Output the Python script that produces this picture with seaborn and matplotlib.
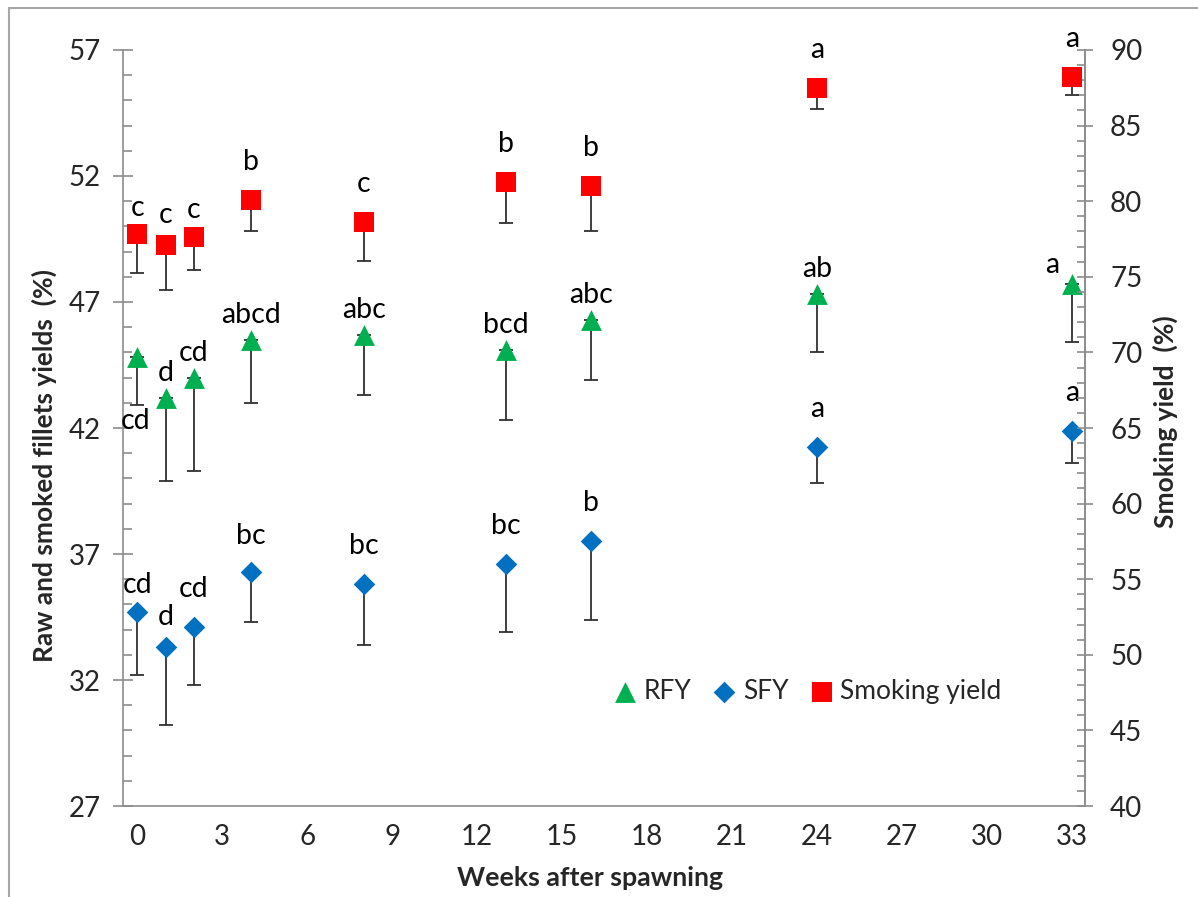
import matplotlib
matplotlib.use('Agg')
import matplotlib.pyplot as plt
import numpy as np
import pandas as pd
import seaborn as sns
from matplotlib.patches import Rectangle
from matplotlib.ticker import MultipleLocator, FixedLocator

# values
weeks = [0, 1, 2, 4, 8, 13, 16, 24, 33]
rfy = [44.8, 43.2, 44.0, 45.5, 45.7, 45.1, 46.3, 47.3, 47.7]
rfy_err = [1.9, 3.3, 3.7, 2.5, 2.4, 2.8, 2.4, 2.3, 2.3]
sfy = [34.7, 33.3, 34.1, 36.3, 35.8, 36.6, 37.5, 41.25, 41.9]
sfy_err = [2.5, 3.1, 2.3, 2.0, 2.4, 2.7, 3.1, 1.45, 1.3]
smoking = [77.8, 77.1, 77.6, 80.1, 78.6, 81.3, 81.0, 87.5, 88.2]
smoking_err = [2.55, 3.0, 2.15, 2.1, 2.55, 2.75, 3.0, 1.4, 1.2]

rfy_letters = ['cd', 'd', 'cd', 'abcd', 'abc', 'bcd', 'abc', 'ab', 'a']
sfy_letters = ['cd', 'd', 'cd', 'bc', 'bc', 'bc', 'b', 'a', 'a']
smoking_letters = ['c', 'c', 'c', 'b', 'c', 'b', 'b', 'a', 'a']

GREEN = '#00B050'
BLUE = '#0070C0'
RED = '#FF0000'
SPINE = '#8C8C8C'

sns.set_theme(style='white')
plt.rcParams['font.family'] = ['Lato', 'DejaVu Sans']

df = pd.DataFrame({'week': weeks, 'rfy': rfy, 'sfy': sfy, 'smoking': smoking})

fig = plt.figure(figsize=(11.98, 8.97), dpi=100)
ax = fig.add_axes([0.1027, 0.1014, 0.8030, 0.8429])
ax2 = ax.twinx()

zeros = np.zeros(len(weeks))
err_kw = dict(fmt='none', ecolor='#303030', elinewidth=1.3, capsize=4.7, capthick=1.3, zorder=2)
ax.errorbar(weeks, rfy, yerr=[rfy_err, zeros], **err_kw)
ax.errorbar(weeks, sfy, yerr=[sfy_err, zeros], **err_kw)
ax2.errorbar(weeks, smoking, yerr=[smoking_err, zeros], **err_kw)

sns.scatterplot(data=df, x='week', y='rfy', marker='^', s=225, color=GREEN,
                linewidth=0, ax=ax, zorder=3, label='RFY')
sns.scatterplot(data=df, x='week', y='sfy', marker='D', s=121, color=BLUE,
                linewidth=0, ax=ax, zorder=3, label='SFY')
sns.scatterplot(data=df, x='week', y='smoking', marker='s', s=225, color=RED,
                linewidth=0, ax=ax2, zorder=3, label='Smoking yield')

# significance letters (offsets in pixels -> points)
def put_letters(axis, ys, letters, dy_default, special):
    for i, (x, y, t) in enumerate(zip(weeks, ys, letters)):
        dx, dy = special.get(i, (0, dy_default))
        axis.annotate(t, (x, y), xytext=(dx * 0.72, -dy * 0.72), textcoords='offset points',
                      ha='center', va='center', fontsize=20.5, color='black', zorder=4)

put_letters(ax, rfy, rfy_letters, -25, {0: (-2, 64), 8: (-20, -19)})
put_letters(ax, sfy, sfy_letters, -38, {0: (0, -27), 1: (0, -30), 3: (0, -36)})
put_letters(ax2, smoking, smoking_letters, -38, {0: (0, -26), 1: (0, -30), 2: (0, -27)})

ax.set_xlim(-0.5, 33.45)
ax.set_ylim(27, 57)
ax2.set_ylim(40, 90)

ax.xaxis.set_major_locator(FixedLocator(np.arange(0, 34, 3)))
ax.xaxis.set_minor_locator(FixedLocator(np.arange(-0.5, 33, 3)))
ax.tick_params(axis='x', which='major', length=0, pad=13, labelsize=20)
ax.tick_params(axis='x', which='minor', direction='out', length=7, width=1.2, color=SPINE)

ax.yaxis.set_major_locator(FixedLocator(np.arange(27, 58, 5)))
ax.yaxis.set_minor_locator(MultipleLocator(1))
ax.tick_params(axis='y', which='major', direction='inout', length=14, width=1.2, color=SPINE,
               pad=9, labelsize=20)
ax.tick_params(axis='y', which='minor', direction='in', length=6.5, width=1.2, color=SPINE)

ax2.yaxis.set_major_locator(MultipleLocator(5))
ax2.yaxis.set_minor_locator(MultipleLocator(1))
ax2.tick_params(axis='y', which='major', direction='inout', length=12, width=1.2, color=SPINE,
                pad=12, labelsize=20)
ax2.tick_params(axis='y', which='minor', direction='in', length=6, width=1.2, color=SPINE)

for a in (ax, ax2):
    a.spines['top'].set_visible(False)
    for s in ('left', 'right', 'bottom'):
        a.spines[s].set_color(SPINE)
        a.spines[s].set_linewidth(1.2)
    a.grid(False)
ax2.spines['left'].set_visible(False)
ax2.spines['bottom'].set_visible(False)

ax.set_xlabel('Weeks after spawning', fontsize=19.3, fontweight='bold')
ax.xaxis.set_label_coords(0.4855, -0.079)
ax.set_ylabel('Raw and smoked fillets yields  (%)', fontsize=19, fontweight='bold')
ax.yaxis.set_label_coords(-0.069, 0.45)
ax2.set_ylabel('Smoking yield  (%)', fontsize=19, fontweight='bold')
ax2.yaxis.set_label_coords(1.0707, 0.509)

h1, l1 = ax.get_legend_handles_labels()
h2, l2 = ax2.get_legend_handles_labels()
for a in (ax, ax2):
    if a.get_legend() is not None:
        a.get_legend().remove()
ax2.legend(h1 + h2, l1 + l2, loc='center left', bbox_to_anchor=(0.5, 0.152), ncol=3,
           frameon=False, fontsize=19, handlelength=0.8, handletextpad=0.3,
           columnspacing=0.85, borderaxespad=0)

fig.patches.append(Rectangle((9 / 1198, -0.1), 1.5, 1.1 - 8 / 897, transform=fig.transFigure,
                             fill=False, edgecolor='#A6A6A6', linewidth=1.5))

fig.savefig('out.png', dpi=100)
